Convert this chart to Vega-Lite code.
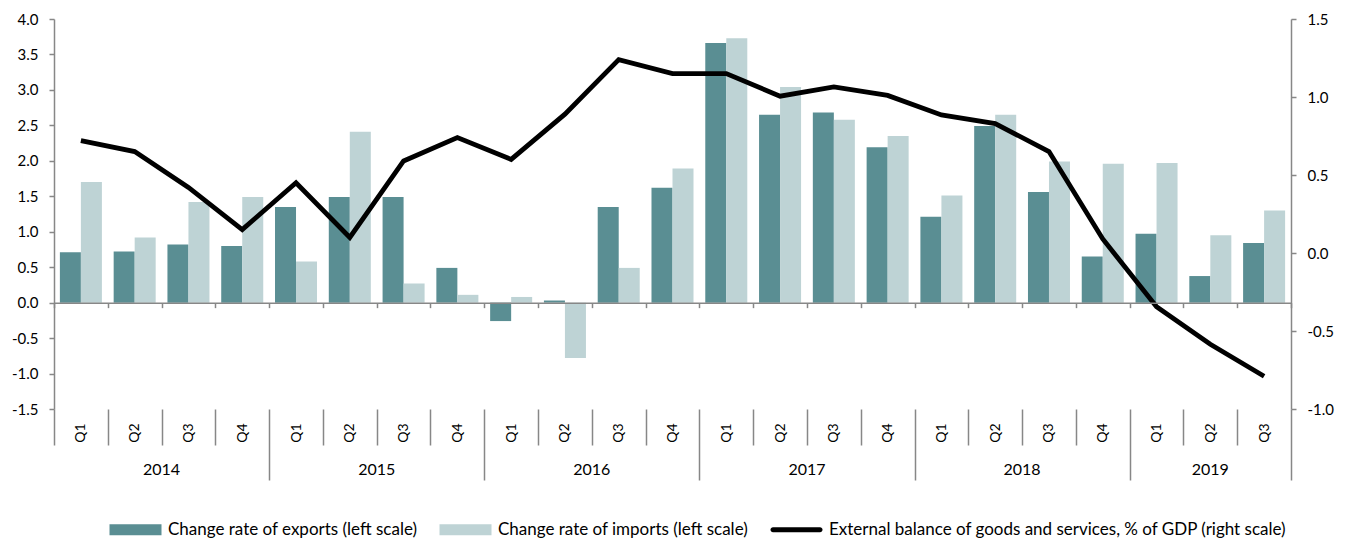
{
  "$schema": "https://vega.github.io/schema/vega-lite/v6.json",
  "width": 1237,
  "height": 390,
  "autosize": {"type": "none"},
  "padding": {"left": 54, "top": 19, "right": 61, "bottom": 129},
  "background": "white",
  "config": {
    "font": "Lato",
    "view": {"stroke": null},
    "axis": {"labelFont": "Lato", "labelFontSize": 15, "labelColor": "#000", "domainColor": "#878787", "tickColor": "#878787", "domainWidth": 1.5, "tickWidth": 1.5, "grid": false, "title": null}
  },
  "data": {
    "values": [
      {"period": "2014-Q1", "exports": 0.71, "imports": 1.70, "balance": 0.72},
      {"period": "2014-Q2", "exports": 0.72, "imports": 0.92, "balance": 0.65},
      {"period": "2014-Q3", "exports": 0.82, "imports": 1.42, "balance": 0.42},
      {"period": "2014-Q4", "exports": 0.80, "imports": 1.49, "balance": 0.15},
      {"period": "2015-Q1", "exports": 1.35, "imports": 0.58, "balance": 0.45},
      {"period": "2015-Q2", "exports": 1.49, "imports": 2.41, "balance": 0.10},
      {"period": "2015-Q3", "exports": 1.49, "imports": 0.27, "balance": 0.59},
      {"period": "2015-Q4", "exports": 0.49, "imports": 0.11, "balance": 0.74},
      {"period": "2016-Q1", "exports": -0.26, "imports": 0.08, "balance": 0.60},
      {"period": "2016-Q2", "exports": 0.03, "imports": -0.78, "balance": 0.89},
      {"period": "2016-Q3", "exports": 1.35, "imports": 0.49, "balance": 1.24},
      {"period": "2016-Q4", "exports": 1.62, "imports": 1.89, "balance": 1.15},
      {"period": "2017-Q1", "exports": 3.66, "imports": 3.73, "balance": 1.15},
      {"period": "2017-Q2", "exports": 2.65, "imports": 3.04, "balance": 1.005},
      {"period": "2017-Q3", "exports": 2.68, "imports": 2.58, "balance": 1.065},
      {"period": "2017-Q4", "exports": 2.19, "imports": 2.35, "balance": 1.01},
      {"period": "2018-Q1", "exports": 1.21, "imports": 1.51, "balance": 0.885},
      {"period": "2018-Q2", "exports": 2.49, "imports": 2.65, "balance": 0.83},
      {"period": "2018-Q3", "exports": 1.56, "imports": 1.99, "balance": 0.65},
      {"period": "2018-Q4", "exports": 0.65, "imports": 1.96, "balance": 0.09},
      {"period": "2019-Q1", "exports": 0.97, "imports": 1.97, "balance": -0.345},
      {"period": "2019-Q2", "exports": 0.375, "imports": 0.95, "balance": -0.585},
      {"period": "2019-Q3", "exports": 0.84, "imports": 1.30, "balance": -0.79}
    ]
  },
  "resolve": {"scale": {"y": "independent"}, "axis": {"x": "independent"}},
  "layer": [
    {
      "mark": {"type": "bar"},
      "encoding": {
        "x": {
          "field": "period", "type": "nominal", "sort": null,
          "scale": {"paddingInner": 0, "paddingOuter": 0},
          "axis": {
            "orient": "bottom", "domain": false, "tickBand": "extent",
            "tickSize": {"condition": {"test": "datum.index === 1 || indexof(['2014-Q4','2015-Q4','2016-Q4','2017-Q4','2018-Q4','2019-Q3'], datum.value) >= 0", "value": 71}, "value": 36},
            "labelPadding": {"condition": {"test": "datum.index === 1 || indexof(['2014-Q4','2015-Q4','2016-Q4','2017-Q4','2018-Q4','2019-Q3'], datum.value) >= 0", "value": -57}, "value": -22},
            "labelAngle": -90, "labelAlign": "right", "labelBaseline": "middle",
            "labelExpr": "split(datum.value, '-')[1]",
            "labelFontSize": 14
          }
        },
        "xOffset": {"datum": "exports", "scale": {"domain": ["exports", "imports"], "paddingInner": 0, "paddingOuter": 0.28}},
        "y": {
          "field": "exports", "type": "quantitative",
          "scale": {"domain": [-1.5, 4], "nice": false, "zero": false},
          "axis": {"orient": "left", "values": [-1.5, -1, -0.5, 0, 0.5, 1, 1.5, 2, 2.5, 3, 3.5, 4], "labelExpr": "replace(format(datum.value, '.1f'), '\u2212', '-')", "tickSize": 5, "labelPadding": 11}
        },
        "color": {
          "datum": "Change rate of exports (left scale)",
          "scale": {"domain": ["Change rate of exports (left scale)", "Change rate of imports (left scale)", "External balance of goods and services, % of GDP (right scale)"], "range": ["#5a8e93", "#bed3d5", "#000000"]},
          "legend": {
            "orient": "none", "legendX": 47, "legendY": 502, "direction": "horizontal", "title": null,
            "labelFont": "Lato", "labelFontSize": 17, "labelColor": "#000", "labelLimit": 800,
            "symbolSize": 100, "symbolType": "M0,-1.1H10.4V1.1H0Z", "symbolStrokeWidth": 0, "symbolOpacity": 1,
            "labelOffset": 50, "columnPadding": 13,
            "encode": {"symbols": {"update": {"shape": {"signal": "datum.value === 'External balance of goods and services, % of GDP (right scale)' ? 'M0.5,-0.5H9.9A0.5,0.5 0 0 1 9.9,0.5H0.5A0.5,0.5 0 0 1 0.5,-0.5Z' : 'M0,-1.1H10.4V1.1H0Z'"}}}}
          }
        }
      }
    },
    {
      "mark": {"type": "bar"},
      "encoding": {
        "x": {
          "field": "period", "type": "nominal", "sort": null,
          "axis": {
            "orient": "bottom", "domain": false, "ticks": false,
            "values": ["2014-Q2", "2015-Q2", "2016-Q2", "2017-Q2", "2018-Q2", "2019-Q2"],
            "labelExpr": "split(datum.value, '-')[0]",
            "labelOffset": {"condition": {"test": "datum.value === '2019-Q2'", "value": 0}, "value": 26.9},
            "labelPadding": 60, "labelBaseline": "middle", "labelAngle": 0, "labelAlign": "center", "labelFontSize": 16
          }
        },
        "xOffset": {"datum": "imports"},
        "y": {
          "field": "imports", "type": "quantitative",
          "scale": {"domain": [-1.5, 4], "nice": false, "zero": false},
          "axis": null
        },
        "color": {"datum": "Change rate of imports (left scale)"}
      }
    },
    {
      "mark": {"type": "line", "color": "#000000", "strokeWidth": 4.8},
      "encoding": {
        "x": {
          "field": "period", "type": "nominal", "sort": null,
          "axis": {"orient": "bottom", "offset": -106.36, "domain": true, "ticks": true, "tickBand": "extent", "tickSize": 5, "labels": false, "zindex": 1}
        },
        "y": {
          "field": "balance", "type": "quantitative",
          "scale": {"domain": [-1, 1.5], "nice": false, "zero": false},
          "axis": {"orient": "right", "values": [-1, -0.5, 0, 0.5, 1, 1.5], "labelExpr": "replace(format(datum.value, '.1f'), '\u2212', '-')", "tickSize": 5, "labelPadding": 11}
        }
      }
    }
  ]
}
